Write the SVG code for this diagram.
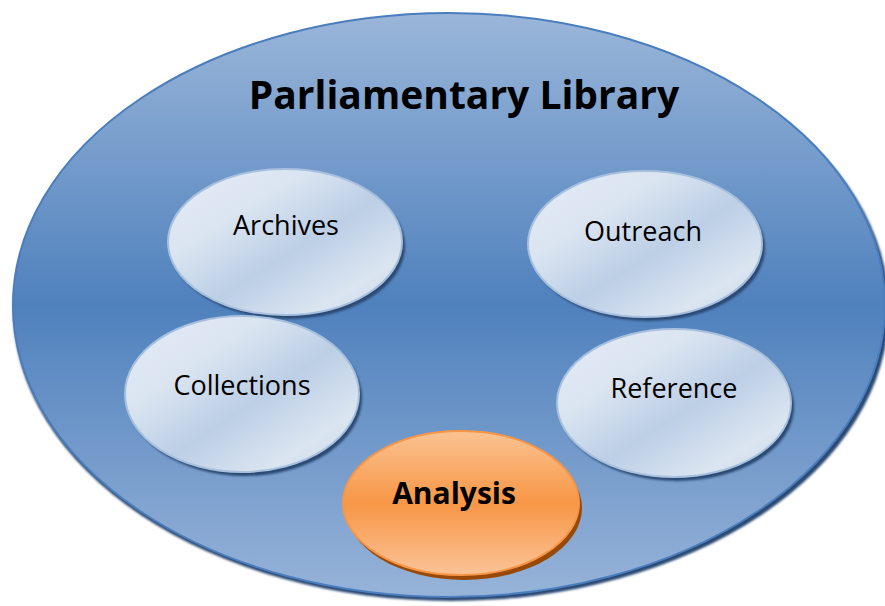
<svg xmlns="http://www.w3.org/2000/svg" width="885" height="606" viewBox="0 0 885 606">
<defs>
<linearGradient id="gBig" x1="0" y1="0" x2="0" y2="1">
<stop offset="0" stop-color="#9ab6d9"/>
<stop offset="0.5" stop-color="#4f81bd"/>
<stop offset="1" stop-color="#97b3d8"/>
</linearGradient>
<linearGradient id="gSmall" x1="0" y1="0" x2="1" y2="1">
<stop offset="0" stop-color="#e3ebf5"/>
<stop offset="0.3" stop-color="#dbe5f1"/>
<stop offset="0.55" stop-color="#bccfe6"/>
<stop offset="0.8" stop-color="#dbe5f1"/>
<stop offset="1" stop-color="#c7d7ea"/>
</linearGradient>
<linearGradient id="gOrange" x1="0" y1="0" x2="0" y2="1">
<stop offset="0" stop-color="#fac392"/>
<stop offset="0.5" stop-color="#f79646"/>
<stop offset="1" stop-color="#fbc397"/>
</linearGradient>
<filter id="blur" x="-10%" y="-10%" width="120%" height="120%"><feGaussianBlur stdDeviation="1.2"/></filter>
</defs>
<style>
.shadow{fill:#2b4a73;filter:url(#blur)}
.small{fill:url(#gSmall);stroke:#a7c0de;stroke-width:2}
.lbl{font-family:"Open Sans","Liberation Sans",sans-serif;font-size:27px;fill:#000;text-anchor:middle}
</style>
<g id="library">
<ellipse cx="451" cy="309" rx="438" ry="292" class="shadow"/>
<ellipse cx="449" cy="305" rx="436" ry="292" fill="url(#gBig)" stroke="#4a7dbd" stroke-width="2"/>
<text x="464" y="109" font-family="'Open Sans','Liberation Sans',sans-serif" font-size="39" font-weight="bold" text-anchor="middle" fill="#000">Parliamentary Library</text>
</g>
<g id="archives">
<ellipse cx="288" cy="246" rx="117" ry="73" class="shadow"/>
<ellipse cx="285" cy="242" rx="117" ry="73" class="small"/>
<text x="286" y="235" class="lbl">Archives</text>
</g>
<g id="outreach">
<ellipse cx="648" cy="248" rx="117" ry="73" class="shadow"/>
<ellipse cx="645" cy="244" rx="117" ry="73" class="small"/>
<text x="643" y="241" class="lbl">Outreach</text>
</g>
<g id="collections">
<ellipse cx="245" cy="398" rx="117" ry="78" class="shadow"/>
<ellipse cx="242" cy="394" rx="117" ry="78" class="small"/>
<text x="242" y="395" class="lbl">Collections</text>
</g>
<g id="reference">
<ellipse cx="677" cy="407" rx="117" ry="74" class="shadow"/>
<ellipse cx="674" cy="403" rx="117" ry="74" class="small"/>
<text x="674" y="398" class="lbl">Reference</text>
</g>
<g id="analysis">
<ellipse cx="464" cy="508" rx="118" ry="72" fill="#984807"/>
<ellipse cx="461" cy="503" rx="118" ry="72" fill="url(#gOrange)" stroke="#f79646" stroke-width="2"/>
<text x="454" y="504" font-family="'Open Sans','Liberation Sans',sans-serif" font-size="30" font-weight="bold" text-anchor="middle" fill="#000">Analysis</text>
</g>
<g id="connectors"/>
</svg>
